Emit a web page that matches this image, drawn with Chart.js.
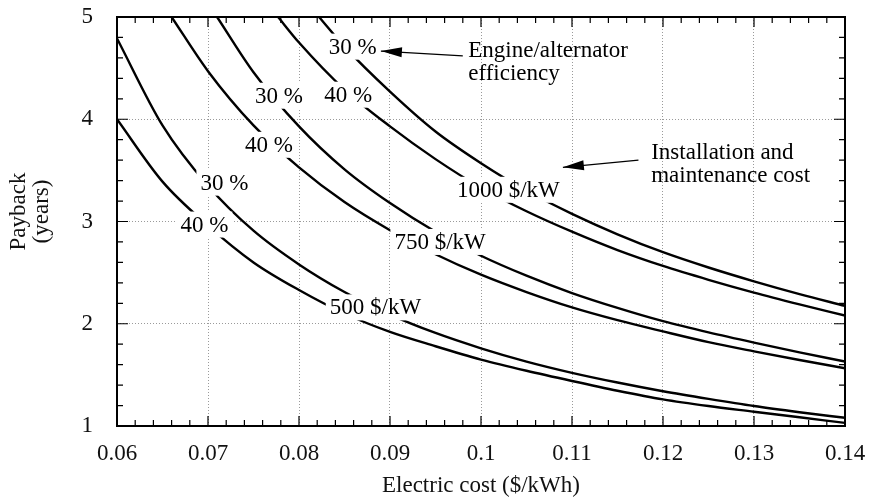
<!DOCTYPE html>
<html lang="en">
<head>
  <meta charset="UTF-8" />
  <title>Payback vs electric cost</title>
  <script src="https://cdn.jsdelivr.net/npm/chart.js"></script>
  <style>
    body {
      margin: 0;
      background: #ffffff;
    }
    .wrap {
      width: 869px;
      height: 497px;
    }
  </style>
</head>
<body>
  <div class="wrap">
    <canvas id="payback"></canvas>
  </div>

  <script>
    // values: electric cost ($/kWh) -> payback (years)
    const x500 = [0.06, 0.065, 0.07, 0.075, 0.08, 0.085, 0.09, 0.095, 0.10, 0.105, 0.11, 0.115, 0.12, 0.125, 0.13, 0.135, 0.14];
    const y500at30 = [4.79, 3.94, 3.35, 2.91, 2.58, 2.31, 2.09, 1.91, 1.76, 1.63, 1.52, 1.425, 1.34, 1.265, 1.195, 1.135, 1.08];
    const y500at40 = [4.00, 3.39, 2.96, 2.60, 2.33, 2.10, 1.92, 1.78, 1.65, 1.54, 1.44, 1.345, 1.26, 1.195, 1.14, 1.085, 1.03];

    const x750at30 = [0.071, 0.075, 0.08, 0.085, 0.09, 0.095, 0.10, 0.105, 0.11, 0.115, 0.12, 0.125, 0.13, 0.135, 0.14];
    const y750at30 = [5.00, 4.46, 3.93, 3.51, 3.18, 2.90, 2.665, 2.47, 2.30, 2.155, 2.025, 1.915, 1.815, 1.72, 1.63];
    const x750at40 = [0.066, 0.07, 0.075, 0.08, 0.085, 0.09, 0.095, 0.10, 0.105, 0.11, 0.115, 0.12, 0.125, 0.13, 0.135, 0.14];
    const y750at40 = [5.00, 4.47, 3.94, 3.53, 3.19, 2.915, 2.68, 2.48, 2.31, 2.16, 2.035, 1.925, 1.82, 1.73, 1.645, 1.565];

    const x1000at30 = [0.0822, 0.085, 0.09, 0.095, 0.10, 0.105, 0.11, 0.115, 0.12, 0.125, 0.13, 0.135, 0.14];
    const y1000at30 = [5.00, 4.71, 4.27, 3.88, 3.57, 3.30, 3.075, 2.875, 2.70, 2.55, 2.415, 2.29, 2.175];
    const x1000at40 = [0.0777, 0.08, 0.085, 0.09, 0.095, 0.10, 0.105, 0.11, 0.115, 0.12, 0.125, 0.13, 0.135, 0.14];
    const y1000at40 = [5.00, 4.75, 4.29, 3.93, 3.61, 3.33, 3.10, 2.90, 2.72, 2.565, 2.43, 2.305, 2.19, 2.08];

    const xTicks = [0.06, 0.07, 0.08, 0.09, 0.10, 0.11, 0.12, 0.13, 0.14];
    const xTickLabels = ['0.06', '0.07', '0.08', '0.09', '0.1', '0.11', '0.12', '0.13', '0.14'];
    const yTicks = [1, 2, 3, 4, 5];
    const yTickLabels = ['1', '2', '3', '4', '5'];

    const serif = "'Liberation Serif', 'Times New Roman', serif";

    const toPoints = (xs, ys) => xs.map((v, i) => ({ x: v, y: ys[i] }));
    const curve = (label, xs, ys) => ({
      label: label,
      data: toPoints(xs, ys),
      borderColor: '#000',
      borderWidth: 2.4,
      pointRadius: 0,
      fill: false,
      cubicInterpolationMode: 'monotone',
      clip: 0
    });

    // text placed on the curves, in data units
    const curveLabels = [
      { text: '30 %', x: 0.0859, y: 4.71 },
      { text: '40 %', x: 0.0854, y: 4.24 },
      { text: '30 %', x: 0.0778, y: 4.23 },
      { text: '40 %', x: 0.0767, y: 3.75 },
      { text: '30 %', x: 0.0718, y: 3.38 },
      { text: '40 %', x: 0.0696, y: 2.97 },
      { text: '1000 $/kW', x: 0.1030, y: 3.31 },
      { text: '750 $/kW', x: 0.0955, y: 2.80 },
      { text: '500 $/kW', x: 0.0884, y: 2.16 }
    ];
    const notes = [
      { lines: ['Engine/alternator', 'efficiency'], x: 0.0986, y: 4.67 },
      { lines: ['Installation and', 'maintenance cost'], x: 0.1187, y: 3.67 }
    ];
    const arrows = [
      { from: [0.0980, 4.62], to: [0.0890, 4.667] },
      { from: [0.1173, 3.60], to: [0.1090, 3.53] }
    ];
    const yTitle = ['Payback', '(years)'];

    const overlay = {
      id: 'overlay',
      afterDatasetsDraw(chart) {
        const { ctx, chartArea: a, scales: { x, y } } = chart;
        ctx.save();

        // labels sit on a white patch that breaks the curve
        ctx.font = '23px ' + serif;
        ctx.textAlign = 'center';
        ctx.textBaseline = 'middle';
        curveLabels.forEach(l => {
          const px = x.getPixelForValue(l.x);
          const py = y.getPixelForValue(l.y);
          const w = ctx.measureText(l.text).width + 8;
          ctx.fillStyle = '#fff';
          ctx.fillRect(px - w / 2, py - 13, w, 26);
          ctx.fillStyle = '#000';
          ctx.fillText(l.text, px, py + 1);
        });

        ctx.textAlign = 'left';
        notes.forEach(n => {
          const px = x.getPixelForValue(n.x);
          const py = y.getPixelForValue(n.y);
          n.lines.forEach((t, i) => ctx.fillText(t, px, py + i * 23));
        });

        // y title sits a bit above the middle of the axis
        ctx.save();
        ctx.fillStyle = '#111';
        ctx.textAlign = 'center';
        ctx.translate(18.5, (a.top + a.bottom) / 2 - 10);
        ctx.rotate(-Math.PI / 2);
        yTitle.forEach((t, i) => ctx.fillText(t, 0, i * 23));
        ctx.restore();

        // arrows
        ctx.strokeStyle = '#000';
        ctx.fillStyle = '#000';
        arrows.forEach(ar => {
          const x1 = x.getPixelForValue(ar.from[0]), y1 = y.getPixelForValue(ar.from[1]);
          const x2 = x.getPixelForValue(ar.to[0]), y2 = y.getPixelForValue(ar.to[1]);
          const ang = Math.atan2(y2 - y1, x2 - x1);
          ctx.lineWidth = 1.2;
          ctx.beginPath();
          ctx.moveTo(x1, y1);
          ctx.lineTo(x2, y2);
          ctx.stroke();
          ctx.beginPath();
          ctx.moveTo(x2, y2);
          ctx.lineTo(x2 - 21 * Math.cos(ang) + 5 * Math.sin(ang), y2 - 21 * Math.sin(ang) - 5 * Math.cos(ang));
          ctx.lineTo(x2 - 21 * Math.cos(ang) - 5 * Math.sin(ang), y2 - 21 * Math.sin(ang) + 5 * Math.cos(ang));
          ctx.closePath();
          ctx.fill();
        });

        // inward ticks on all four sides
        ctx.lineWidth = 1.2;
        ctx.beginPath();
        for (let i = 0; i <= 40; i++) {
          const px = x.getPixelForValue(0.06 + i * 0.002);
          const len = i % 5 === 0 ? 10 : 6;
          ctx.moveTo(px, a.bottom); ctx.lineTo(px, a.bottom - len);
          ctx.moveTo(px, a.top); ctx.lineTo(px, a.top + len);
        }
        for (let i = 0; i <= 20; i++) {
          const py = y.getPixelForValue(1 + i * 0.2);
          const len = i % 5 === 0 ? 11 : 6;
          ctx.moveTo(a.left, py); ctx.lineTo(a.left + len, py);
          ctx.moveTo(a.right, py); ctx.lineTo(a.right - len, py);
        }
        ctx.stroke();

        ctx.lineWidth = 2;
        ctx.strokeRect(a.left, a.top, a.right - a.left, a.bottom - a.top);
        ctx.restore();
      }
    };

    const gridColor = c => (c.tick && (c.index === 0 || c.index === c.scale.ticks.length - 1)) ? 'rgba(0,0,0,0)' : '#9a9a9a';

    new Chart(document.getElementById('payback'), {
      type: 'line',
      data: {
        datasets: [
          curve('500 $/kW, 30 %', x500, y500at30),
          curve('500 $/kW, 40 %', x500, y500at40),
          curve('750 $/kW, 30 %', x750at30, y750at30),
          curve('750 $/kW, 40 %', x750at40, y750at40),
          curve('1000 $/kW, 30 %', x1000at30, y1000at30),
          curve('1000 $/kW, 40 %', x1000at40, y1000at40)
        ]
      },
      options: {
        responsive: true,
        maintainAspectRatio: false,
        animation: false,
        events: [],
        layout: { padding: { top: 17, right: 24, left: 0, bottom: 0 } },
        plugins: {
          legend: { display: false },
          tooltip: { enabled: false }
        },
        scales: {
          x: {
            type: 'linear',
            min: 0.06,
            max: 0.14,
            afterBuildTicks: s => { s.ticks = xTicks.map(v => ({ value: v })); },
            afterFit: s => { s.height = 71; s.paddingLeft = 0; s.paddingRight = 0; },
            grid: { color: gridColor, lineWidth: 1, drawTicks: false },
            border: { display: false, dash: [1, 2] },
            ticks: {
              padding: 14,
              color: '#111',
              font: { family: serif, size: 23 },
              callback: (v, i) => xTickLabels[i]
            },
            title: {
              display: true,
              text: 'Electric cost ($/kWh)',
              color: '#111',
              padding: 0,
              font: { family: serif, size: 23, lineHeight: 1 }
            }
          },
          y: {
            type: 'linear',
            min: 1,
            max: 5,
            afterBuildTicks: s => { s.ticks = yTicks.map(v => ({ value: v })); },
            afterFit: s => { s.width = 117; s.paddingTop = 0; s.paddingBottom = 0; },
            grid: { color: gridColor, lineWidth: 1, drawTicks: false },
            border: { display: false, dash: [1, 2] },
            ticks: {
              padding: 24,
              color: '#111',
              font: { family: serif, size: 23 },
              callback: (v, i) => yTickLabels[i]
            },
            title: { display: false }
          }
        }
      },
      plugins: [overlay]
    });
  </script>
</body>
</html>
